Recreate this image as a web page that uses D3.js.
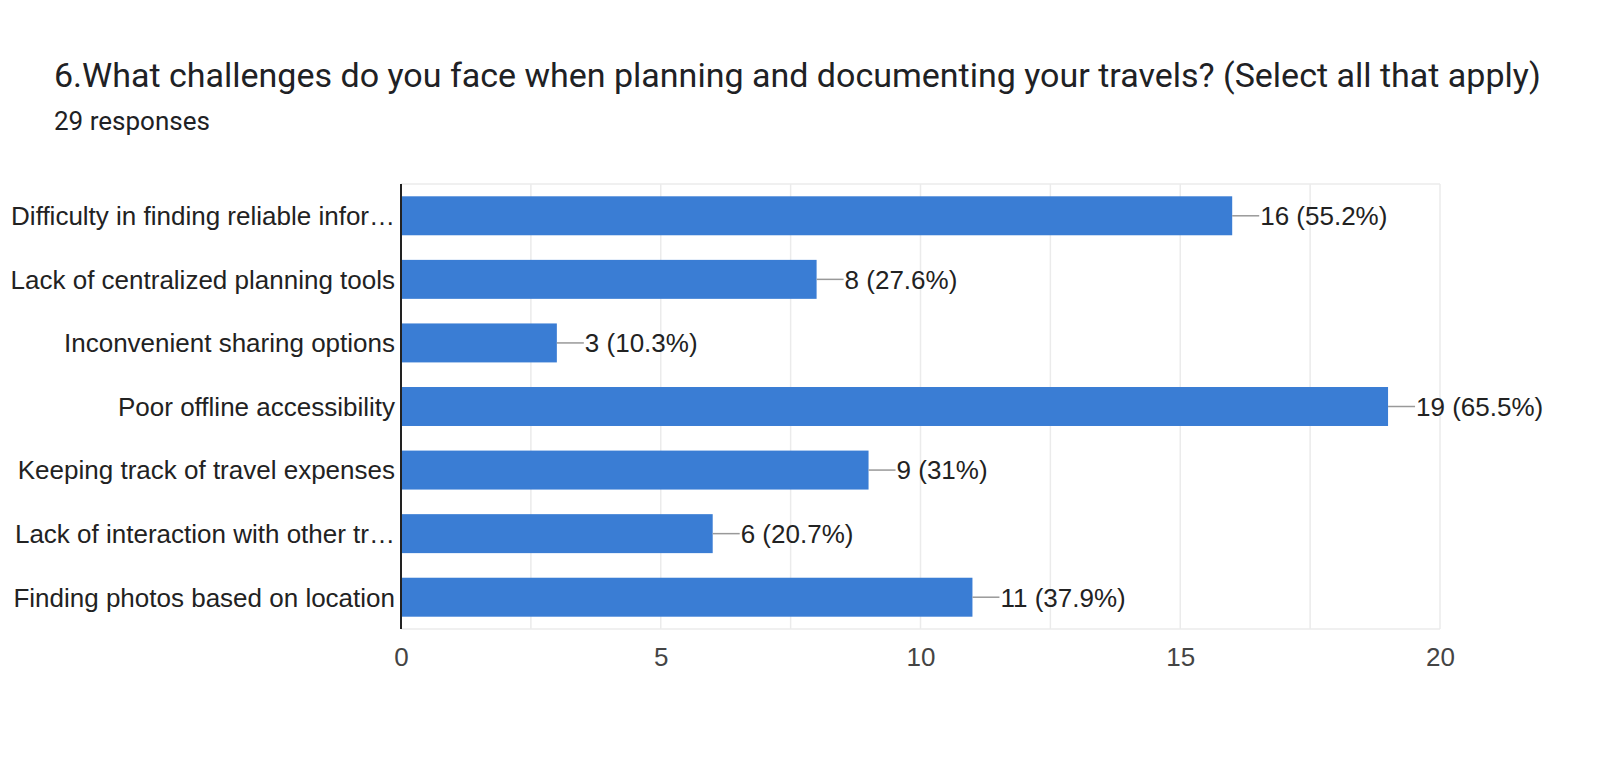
<!DOCTYPE html>
<html>
<head>
<meta charset="utf-8">
<script src="https://cdn.jsdelivr.net/npm/d3@7"></script>
<style>
  html, body { margin: 0; padding: 0; background: #fff; }
  svg { display: block; }
  .title { font-family: Roboto, "Noto Sans", sans-serif; fill: #202124; }
  .cat-label, .val-label, .tick-label { font-family: "Liberation Sans", Arial, sans-serif; }
</style>
</head>
<body>
<div id="chart"></div>
<script>
// chart data
const titleText = "6.What challenges do you face when planning and documenting your travels? (Select all that apply)";
const subtitleText = "29 responses";
const categories = [
    "Difficulty in finding reliable infor\u2026",
    "Lack of centralized planning tools",
    "Inconvenient sharing options",
    "Poor offline accessibility",
    "Keeping track of travel expenses",
    "Lack of interaction with other tr\u2026",
    "Finding photos based on location"
];
const counts = [16, 8, 3, 19, 9, 6, 11];
const percents = ["55.2%", "27.6%", "10.3%", "65.5%", "31%", "20.7%", "37.9%"];
const xTicks = [0, 5, 10, 15, 20];
const gridStep = 2.5;

// ======================================================================================================
const W = 1600, H = 761;
let margin = {top: 184, right: 160, bottom: 132, left: 401};
let width = W - margin.left - margin.right,
    height = H - margin.top - margin.bottom;

let svg = d3.select("#chart")
    .append("svg")
    .attr("width", W)
    .attr("height", H);

// headings
svg.append("text")
    .classed("title", true)
    .attr("x", 54)
    .attr("y", 87)
    .attr("font-size", 34)
    .text(titleText);
svg.append("text")
    .classed("title", true)
    .attr("x", 54)
    .attr("y", 130)
    .attr("font-size", 26)
    .text(subtitleText);

let g = svg.append("g")
    .attr("transform", "translate(" + margin.left + "," + margin.top + ")");

var x = d3.scaleLinear()
    .domain([xTicks[0], xTicks[xTicks.length - 1]])
    .range([0, width]);

var y = d3.scaleBand()
    .domain(categories)
    .range([0, height])
    .paddingInner(0.387)
    .paddingOuter(0.1935);

// light grid, every 2.5
let gridVals = d3.range(x.domain()[0], x.domain()[1] + 0.001, gridStep);
g.append("g")
    .selectAll("line")
    .data(gridVals)
    .enter()
    .append("line")
    .attr("x1", d => x(d)).attr("x2", d => x(d))
    .attr("y1", 0).attr("y2", height)
    .attr("stroke", "#ebebeb")
    .attr("stroke-width", 1.5);
// top and bottom frame
g.append("line").attr("x1", 0).attr("x2", width).attr("y1", 0).attr("y2", 0)
    .attr("stroke", "#ebebeb").attr("stroke-width", 1.5);
g.append("line").attr("x1", 0).attr("x2", width).attr("y1", height).attr("y2", height)
    .attr("stroke", "#ebebeb").attr("stroke-width", 1.5);

// bars
g.selectAll("rect.bar")
    .data(categories)
    .enter()
    .append("rect")
    .classed("bar", true)
    .attr("x", x(0))
    .attr("y", d => y(d))
    .attr("width", (d, i) => x(counts[i]) - x(0))
    .attr("height", y.bandwidth())
    .attr("fill", "#3a7dd4");

// connector + value labels
g.selectAll("line.conn")
    .data(categories)
    .enter()
    .append("line")
    .classed("conn", true)
    .attr("x1", (d, i) => x(counts[i]))
    .attr("x2", (d, i) => x(counts[i]) + 27)
    .attr("y1", d => y(d) + y.bandwidth() / 2)
    .attr("y2", d => y(d) + y.bandwidth() / 2)
    .attr("stroke", "#999")
    .attr("stroke-width", 1.5);

g.selectAll("text.val-label")
    .data(categories)
    .enter()
    .append("text")
    .classed("val-label", true)
    .attr("x", (d, i) => x(counts[i]) + 28)
    .attr("y", d => y(d) + y.bandwidth() / 2)
    .attr("dy", "0.36em")
    .attr("font-size", 26)
    .attr("fill", "#222")
    .text((d, i) => counts[i] + " (" + percents[i] + ")");

// y axis: category labels and black axis line
let yAxis = g.append("g")
    .call(d3.axisLeft(y).tickSize(0).tickPadding(6));
yAxis.select(".domain").remove();
yAxis.selectAll("text")
    .classed("cat-label", true)
    .attr("font-size", 26)
    .attr("fill", "#222")
    .attr("dy", "0.36em");
g.append("line")
    .attr("x1", 0).attr("x2", 0)
    .attr("y1", 0).attr("y2", height)
    .attr("stroke", "#222")
    .attr("stroke-width", 2);

// x axis tick labels
let xAxis = g.append("g")
    .attr("transform", "translate(0," + height + ")")
    .call(d3.axisBottom(x).tickValues(xTicks).tickSize(0).tickPadding(19));
xAxis.select(".domain").remove();
xAxis.selectAll("text")
    .classed("tick-label", true)
    .attr("font-size", 26)
    .attr("fill", "#444");
</script>
</body>
</html>
